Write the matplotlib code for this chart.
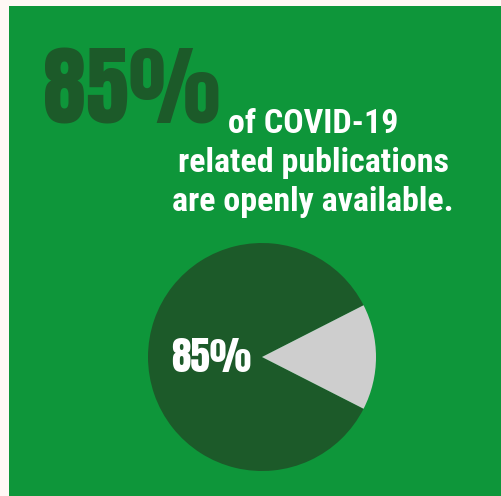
import matplotlib
matplotlib.use("Agg")
import matplotlib.pyplot as plt
from matplotlib.patches import Rectangle

# Data
labels = ["Openly available", "Not openly available"]
shares = [85, 15]
headline = "85%"
caption_lines = ["of COVID-19", "related publications", "are openly available."]

BG = "#fff8f5"
GREEN = "#0e963a"
DARK = "#1c5a29"
GREY = "#cecece"
BIG_FONT = ["Anton", "Oswald", "Roboto Condensed", "DejaVu Sans"]
CAP_FONT = ["Roboto Condensed", "Archivo Narrow", "DejaVu Sans"]

W, H = 501, 496
fig = plt.figure(figsize=(W / 100, H / 100), dpi=100, facecolor=BG)

fig.patches.append(Rectangle((9 / W, 0), 1 - 9 / W, 1 - 6 / H,
                             transform=fig.transFigure, facecolor=GREEN,
                             edgecolor="none", zorder=-5))

# Pie
cx, cy, r = 262, 357, 114
ax = fig.add_axes([(cx - r) / W, (H - cy - r) / H, 2 * r / W, 2 * r / H])
ax.set_zorder(2)
ax.pie(shares, colors=[DARK, GREY], startangle=360 * shares[1] / 200,
       counterclock=True, radius=1.0, wedgeprops=dict(linewidth=0))
ax.set_xlim(-1, 1)
ax.set_ylim(-1, 1)
ax.set_aspect("equal")
ax.axis("off")

renderer = fig.canvas.get_renderer()


def fit_width(t, target):
    ext = t.get_window_extent(renderer)
    t.set_fontsize(t.get_fontsize() * target / ext.width)


pie_lbl = fig.text(211 / W, 1 - 372 / H, headline, ha="center", va="baseline",
                   color="white", fontsize=37, family=BIG_FONT, zorder=5)
fit_width(pie_lbl, 80)

# Headline
big = fig.text(43 / W, 1 - 124 / H, headline, ha="left", va="baseline",
               color=DARK, fontsize=72, family=BIG_FONT)
fit_width(big, 177)

baselines = [133, 172, 211]
caps = []
for line, b in zip(caption_lines, baselines):
    caps.append(fig.text(313 / W, 1 - b / H, line, ha="center", va="baseline",
                         color="white", fontsize=19, fontweight=900,
                         family=CAP_FONT))
ext = caps[1].get_window_extent(renderer)
s = caps[1].get_fontsize() * 271 / ext.width
for c in caps:
    c.set_fontsize(s)

fig.savefig("out.png", dpi=100, facecolor=BG)
